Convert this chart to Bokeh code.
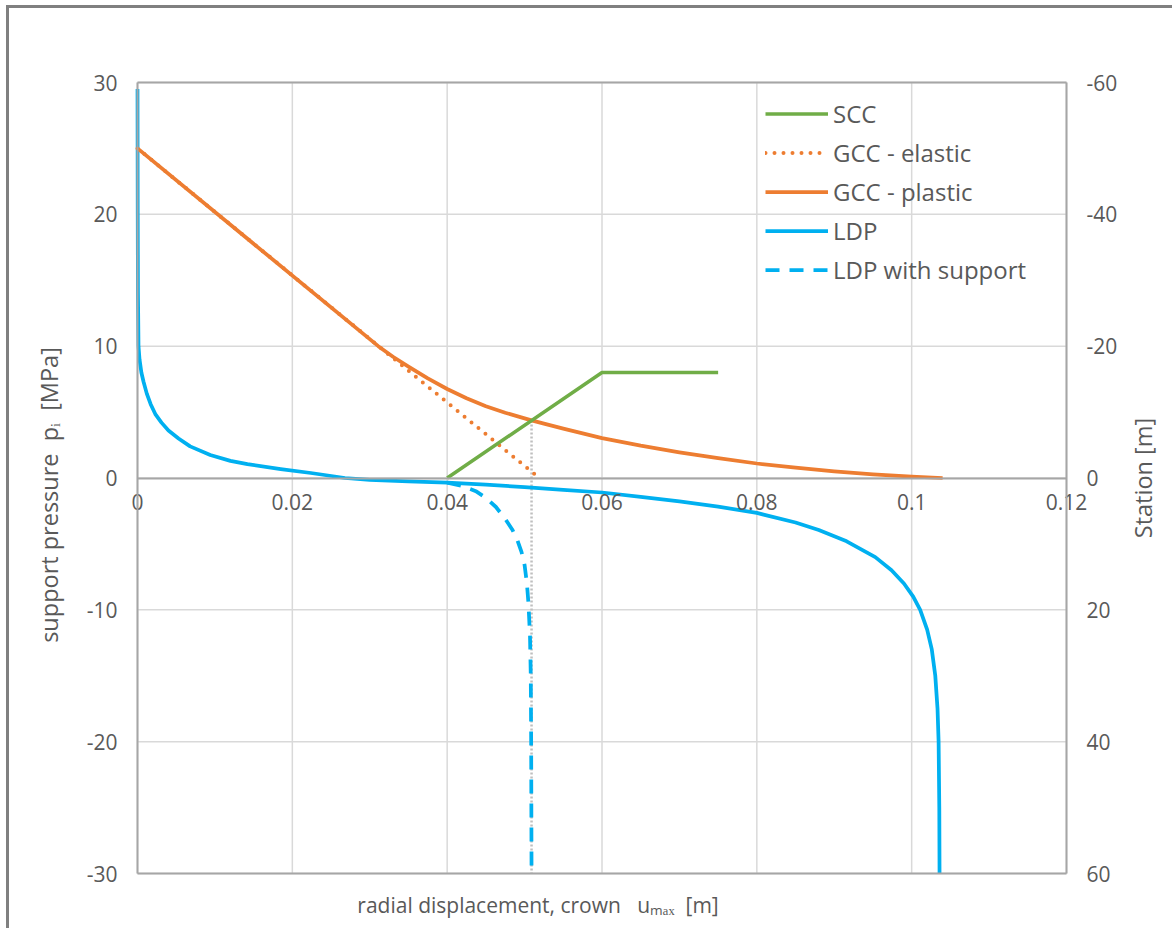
import math
from bokeh.plotting import figure
from bokeh.models import (Range1d, LinearAxis, FixedTicker, Legend, LegendItem, Label)
from bokeh.embed import file_html
from bokeh.resources import INLINE

# ---------------- data ----------------
x_ticks = [0, 0.02, 0.04, 0.06, 0.08, 0.1, 0.12]
x_tick_labels = ["0", "0.02", "0.04", "0.06", "0.08", "0.1", "0.12"]
p_ticks = [-30, -20, -10, 0, 10, 20, 30]
p_tick_labels = ["-30", "-20", "-10", "0", "10", "20", "30"]
station_ticks = [-60, -40, -20, 0, 20, 40, 60]
station_tick_labels = ["-60", "-40", "-20", "0", "20", "40", "60"]

# support characteristic curve (pressure, MPa)
scc_u = [0.04, 0.06, 0.075]
scc_p = [0.0, 8.0, 8.0]

# ground characteristic curve - elastic (pressure, MPa)
gcc_el_u = [0.0, 0.0519]
gcc_el_p = [25.0, 0.0]

# ground characteristic curve - plastic (pressure, MPa)
gcc_pl_u = [0.0, 0.0311, 0.033, 0.035, 0.0375, 0.04, 0.0425, 0.045, 0.0475, 0.05,
            0.0509, 0.0525, 0.055, 0.0575, 0.06, 0.065, 0.07, 0.075, 0.08, 0.085,
            0.09, 0.095, 0.1, 0.104]
gcc_pl_p = [25.0, 10.0, 9.2, 8.45, 7.55, 6.75, 6.05, 5.45, 4.95, 4.52,
            4.37, 4.12, 3.75, 3.38, 3.02, 2.45, 1.95, 1.5, 1.1, 0.78,
            0.5, 0.28, 0.1, 0.0]

# longitudinal deformation profile (station, m)
ldp_u = [0.0, 0.00003, 0.00006, 0.00013, 0.00026, 0.0005, 0.00078, 0.0012, 0.0017,
         0.0023, 0.0031, 0.004, 0.0053, 0.0068, 0.0094, 0.012, 0.0142, 0.0185,
         0.0224, 0.0268, 0.03, 0.035, 0.04, 0.045, 0.05, 0.055, 0.06, 0.065, 0.07,
         0.075, 0.08, 0.085, 0.088, 0.0916, 0.0953, 0.0974, 0.099, 0.1002, 0.1011,
         0.102, 0.1026, 0.10305, 0.10334, 0.10348, 0.10357, 0.1036]
ldp_station = [-59.0, -40.0, -28.0, -20.0, -18.0, -16.0, -14.6, -12.8, -11.2,
               -9.7, -8.4, -7.2, -6.0, -4.8, -3.5, -2.6, -2.1, -1.36,
               -0.76, 0.0, 0.3, 0.5, 0.7, 1.0, 1.4, 1.8, 2.2, 2.85, 3.55,
               4.35, 5.3, 6.75, 7.9, 9.6, 12.0, 14.0, 16.0, 18.0, 20.0,
               23.0, 26.0, 30.0, 35.0, 40.0, 50.0, 60.0]

# LDP with support (station, m)
ldps_u = [0.04, 0.0419, 0.0437, 0.045, 0.0463, 0.0475, 0.0484, 0.049, 0.0496,
          0.05, 0.0503, 0.0505, 0.0507, 0.0508, 0.05085, 0.0509]
ldps_station = [0.7, 1.2, 2.0, 3.0, 4.4, 6.2, 7.8, 9.2, 11.2,
                13.2, 16.0, 19.0, 24.0, 30.0, 40.0, 60.0]

# equilibrium point (SCC x GCC) projected down
eq_u = [0.0509, 0.0509]
eq_p = [4.37, -30.0]

# ---------------- layout (pixels) ----------------
CANVAS_W, CANVAS_H = 1166, 923
FR_L, FR_R, FR_T, FR_B = 128, 1057, 74, 865   # plot area inside the canvas
sx = (FR_R - FR_L) / (x_ticks[-1] - x_ticks[0])
sy = (FR_B - FR_T) / (p_ticks[-1] - p_ticks[0])
x_start = x_ticks[0] - FR_L / sx
x_end = x_ticks[-1] + (CANVAS_W - FR_R) / sx
y_end = p_ticks[-1] + FR_T / sy
y_start = p_ticks[0] - (CANVAS_H - FR_B) / sy
ratio = (station_ticks[-1] - station_ticks[0]) / (p_ticks[-1] - p_ticks[0])

FONT = "Open Sans"
TXT = "#595959"
GREEN = "#70ad47"
ORANGE = "#ed7d31"
BLUE = "#00b0f0"
AX = "#a6a6a6"
GRID = "#d9d9d9"
NB = "\u00a0"

p = figure(width=CANVAS_W, height=CANVAS_H,
           x_range=Range1d(x_start, x_end), y_range=Range1d(y_start, y_end),
           x_axis_location=None, y_axis_location=None,
           output_backend="svg", toolbar_location=None,
           min_border=0)
p.grid.visible = False
p.extra_y_ranges = {"station": Range1d(start=-ratio * y_start, end=-ratio * y_end)}
p.styles = {"border-left": "3px solid #808080", "border-top": "3px solid #808080",
            "margin-left": "6px", "margin-top": "5px"}
p.outline_line_color = None
p.background_fill_color = "white"
p.border_fill_color = "white"

# grid lines (plot area only)
p.segment(x0=x_ticks, y0=[p_ticks[0]] * len(x_ticks), x1=x_ticks,
          y1=[p_ticks[-1]] * len(x_ticks), line_color=GRID, line_width=1.5)
p.segment(x0=[x_ticks[0]] * len(p_ticks), y0=p_ticks, x1=[x_ticks[-1]] * len(p_ticks),
          y1=p_ticks, line_color=GRID, line_width=1.5)

def style_axis(ax):
    ax.major_tick_in = 0
    ax.major_tick_out = 0
    ax.minor_tick_in = 0
    ax.minor_tick_out = 0
    ax.axis_line_color = AX
    ax.axis_line_width = 2
    ax.major_label_text_font = FONT
    ax.major_label_text_font_size = "21px"
    ax.major_label_text_color = TXT

left = LinearAxis(ticker=FixedTicker(ticks=p_ticks), fixed_location=x_ticks[0],
                  bounds=(p_ticks[0], p_ticks[-1]),
                  major_label_overrides=dict(zip(p_ticks, p_tick_labels)))
style_axis(left)
left.major_label_standoff = 20
p.add_layout(left, "left")

right = LinearAxis(y_range_name="station", ticker=FixedTicker(ticks=station_ticks),
                   fixed_location=x_ticks[-1],
                   bounds=(station_ticks[0], station_ticks[-1]),
                   major_label_overrides=dict(zip(station_ticks, station_tick_labels)))
style_axis(right)
right.major_label_standoff = 20
p.add_layout(right, "right")

xaxis = LinearAxis(ticker=FixedTicker(ticks=x_ticks), fixed_location=0,
                   bounds=(x_ticks[0], x_ticks[-1]),
                   major_label_overrides=dict(zip(x_ticks, x_tick_labels)))
style_axis(xaxis)
xaxis.major_label_standoff = 16
p.add_layout(xaxis, "below")

for loc, side in ((p_ticks[-1], "above"), (p_ticks[0], "below")):
    edge = LinearAxis(ticker=FixedTicker(ticks=[]), fixed_location=loc,
                      bounds=(x_ticks[0], x_ticks[-1]))
    style_axis(edge)
    p.add_layout(edge, side)

# series
r_eq = p.line(eq_u, eq_p, line_color="#bfbfbf", line_width=2.5, line_dash="2 2")
r_ldps = p.line(ldps_u, ldps_station, y_range_name="station", line_color=BLUE,
                line_width=3.75, line_dash="14 10")
r_ldp = p.line(ldp_u, ldp_station, y_range_name="station", line_color=BLUE,
               line_width=3.75, line_join="round")
r_el = p.line(gcc_el_u, gcc_el_p, line_color=ORANGE, line_width=4,
              line_dash="0 9", line_cap="round")
r_pl = p.line(gcc_pl_u, gcc_pl_p, line_color=ORANGE, line_width=3.75, line_join="round")
r_scc = p.line(scc_u, scc_p, line_color=GREEN, line_width=3.5)

legend = Legend(items=[
    LegendItem(label="SCC", renderers=[r_scc]),
    LegendItem(label="GCC - elastic", renderers=[r_el]),
    LegendItem(label="GCC - plastic", renderers=[r_pl]),
    LegendItem(label="LDP", renderers=[r_ldp]),
    LegendItem(label="LDP with support", renderers=[r_ldps]),
], location=(756, 642))
legend.label_text_font = FONT
legend.label_text_font_size = "24px"
legend.label_text_color = TXT
legend.glyph_width = 63
legend.glyph_height = 39
legend.label_height = 39
legend.label_standoff = 5
legend.spacing = 0
legend.padding = 0
legend.margin = 0
legend.border_line_alpha = 0
legend.background_fill_alpha = 0
p.add_layout(legend)

# axis titles
p.add_layout(Label(x=0.06, y=p_ticks[0], x_offset=-64, y_offset=-31,
                   text="radial displacement, crown" + NB * 3 + "u\u2098\u2090\u2093" + NB * 2 + "[m]",
                   text_align="center", text_baseline="middle",
                   text_font=FONT, text_font_size="21px", text_color=TXT))
p.add_layout(Label(x=x_ticks[0], y=0, x_offset=-89, y_offset=-17,
                   text="support pressure" + NB * 2 + "p\u1d62" + NB * 2 + "[MPa]",
                   angle=math.pi / 2,
                   text_align="center", text_baseline="middle",
                   text_font=FONT, text_font_size="23.5px", text_color=TXT))
p.add_layout(Label(x=x_ticks[-1], y=0, x_offset=76, y_offset=0,
                   text="Station [m]", angle=math.pi / 2,
                   text_align="center", text_baseline="middle",
                   text_font=FONT, text_font_size="23.5px", text_color=TXT))

open("out.html", "w").write(file_html(p, INLINE))
